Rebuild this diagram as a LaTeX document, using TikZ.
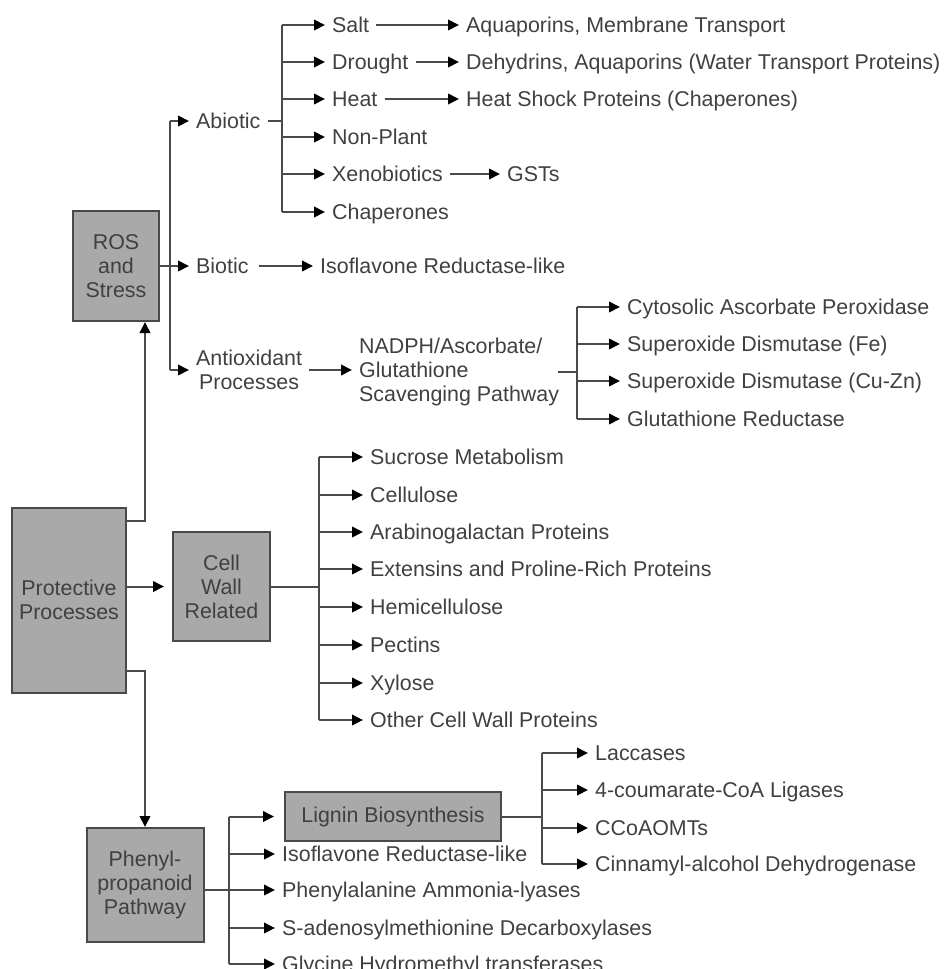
\documentclass[tikz,border=0pt]{standalone}
\usepackage{fontspec}
\setmainfont{Liberation Sans}
\usetikzlibrary{arrows.meta,calc}
\definecolor{boxgray}{HTML}{A9A9A9}
\definecolor{inkgray}{HTML}{404040}
\definecolor{linegray}{HTML}{4A4A4A}
\tikzset{
  box/.style={draw=linegray, line width=2pt, fill=boxgray, align=center, text=inkgray, font=\fontsize{21.4}{24}\selectfont, inner sep=2pt},
  leaf/.style={anchor=west, inner xsep=7pt, inner ysep=0pt, text height=15pt, text depth=0pt, text=inkgray, font=\fontsize{21.4}{24}\selectfont},
  mleaf/.style={anchor=west, inner xsep=7pt, inner ysep=0pt, text=inkgray, font=\fontsize{21.4}{24}\selectfont},
  arr/.style={-{Triangle[length=11pt,width=10.5pt,black]}, line width=2pt, draw=linegray},
  wire/.style={line width=2pt, draw=linegray},
}

\begin{document}
\begin{tikzpicture}[x=1pt,y=-1pt]
\useasboundingbox (0,0) rectangle (944,969);
% main boxes
\node[box, minimum width=86pt, minimum height=110pt] (ros) at (116,266) {ROS\\and\\Stress};
\node[box, minimum width=114pt, minimum height=185pt] (prot) at (69,600) {Protective\\Processes};
\node[box, minimum width=97pt, minimum height=109pt] (cell) at (221.5,586.5) {Cell\\Wall\\Related};
\node[box, minimum width=117pt, minimum height=114pt] (phen) at (145,885) {Phenyl-\\propanoid\\Pathway};
\node[box, minimum width=216pt, minimum height=49pt] (lig) at (393,816.5) {Lignin Biosynthesis};
% bus lines
\coordinate (pvert) at (145,0);
\coordinate (rbus) at (170,0);
\coordinate (abus) at (282,0);
\coordinate (obus) at (577,0);
\coordinate (cbus) at (319,0);
\coordinate (pbus) at (229,0);
\coordinate (lbus) at (542,0);
% ROS and stress
\node[leaf] (abio) at (189,121) {Abiotic};
\node[leaf] (bio) at (189,266) {Biotic};
\node[mleaf, align=center] (anti) at (189,370) {Antioxidant\\Processes};
\node[leaf] (iso) at (313,266) {Isoflavone Reductase-like};
\node[mleaf, align=left] (nadph) at (352,372) {NADPH/Ascorbate/\\Glutathione\\Scavenging Pathway};
\node[leaf] (salt) at (325,25) {Salt};
\node[leaf] (drought) at (325,62) {Drought};
\node[leaf] (heat) at (325,99) {Heat};
\node[leaf] (nonp) at (325,137) {Non-Plant};
\node[leaf] (xeno) at (325,174) {Xenobiotics};
\node[leaf] (chap) at (325,212) {Chaperones};
\node[leaf] (aqua) at (459,25) {Aquaporins, Membrane Transport};
\node[leaf] (dehyd) at (459,62) {Dehydrins, Aquaporins (Water Transport Proteins)};
\node[leaf] (hsp) at (459,99) {Heat Shock Proteins (Chaperones)};
\node[leaf] (gst) at (500,174) {GSTs};
\node[leaf] (apx) at (620,307) {Cytosolic Ascorbate Peroxidase};
\node[leaf] (sodfe) at (620,344) {Superoxide Dismutase (Fe)};
\node[leaf] (sodcu) at (620,381) {Superoxide Dismutase (Cu-Zn)};
\node[leaf] (gr) at (620,419) {Glutathione Reductase};
% cell wall
\node[leaf] (suc) at (363,457) {Sucrose Metabolism};
\node[leaf] (cellu) at (363,495) {Cellulose};
\node[leaf] (agp) at (363,532) {Arabinogalactan Proteins};
\node[leaf] (ext) at (363,569) {Extensins and Proline-Rich Proteins};
\node[leaf] (hemi) at (363,607) {Hemicellulose};
\node[leaf] (pect) at (363,645) {Pectins};
\node[leaf] (xyl) at (363,683) {Xylose};
\node[leaf] (ocw) at (363,720) {Other Cell Wall Proteins};
% phenylpropanoid
\node[leaf] (iso2) at (275,854) {Isoflavone Reductase-like};
\node[leaf] (pal) at (275,890) {Phenylalanine Ammonia-lyases};
\node[leaf] (sam) at (275,928) {S-adenosylmethionine Decarboxylases};
\node[leaf] (gly) at (275,964) {Glycine Hydromethyl transferases};
\node[leaf] (lac) at (588,753) {Laccases};
\node[leaf] (fcl) at (588,790) {4-coumarate-CoA Ligases};
\node[leaf] (ccoa) at (588,828) {CCoAOMTs};
\node[leaf] (cad) at (588,864) {Cinnamyl-alcohol Dehydrogenase};
% protective processes
\draw[arr] ([yshift=-14pt]prot.north east) -| (pvert |- ros.south);
\draw[arr] ([yshift=23pt]prot.south east) -| (pvert |- phen.north);
\draw[arr, shorten >=8pt] (prot.east |- cell.west) -- (cell.west);
% ROS branches
\draw[arr] (ros.east) -- (bio);
\draw[wire] (rbus |- abio) -- (rbus |- anti);
\draw[arr] (rbus |- abio) -- (abio);
\draw[arr] (rbus |- anti) -- (anti);
\draw[arr, shorten <=3pt] (bio) -- (iso);
\draw[wire] (abio.east) -- (abus |- abio);
\draw[wire] (abus |- salt) -- (abus |- chap);
\draw[arr] (abus |- salt) -- (salt);
\draw[arr] (abus |- drought) -- (drought);
\draw[arr] (abus |- heat) -- (heat);
\draw[arr] (abus |- nonp) -- (nonp);
\draw[arr] (abus |- xeno) -- (xeno);
\draw[arr] (abus |- chap) -- (chap);
\draw[arr] (salt) -- (aqua);
\draw[arr] (drought) -- (dehyd);
\draw[arr] (heat) -- (hsp);
\draw[arr] (xeno) -- (gst);
\draw[arr] (anti.east) -- (anti.east -| nadph.west);
\draw[wire] ([xshift=-8pt]nadph.east) -- (obus |- nadph.east);
\draw[wire] (obus |- apx) -- (obus |- gr);
\draw[arr] (obus |- apx) -- (apx);
\draw[arr] (obus |- sodfe) -- (sodfe);
\draw[arr] (obus |- sodcu) -- (sodcu);
\draw[arr] (obus |- gr) -- (gr);
% cell wall branches
\draw[wire] (cell.east) -- (cbus |- cell.east);
\draw[wire] (cbus |- suc) -- (cbus |- ocw);
\draw[arr] (cbus |- suc) -- (suc);
\draw[arr] (cbus |- cellu) -- (cellu);
\draw[arr] (cbus |- agp) -- (agp);
\draw[arr] (cbus |- ext) -- (ext);
\draw[arr] (cbus |- hemi) -- (hemi);
\draw[arr] (cbus |- pect) -- (pect);
\draw[arr] (cbus |- xyl) -- (xyl);
\draw[arr] (cbus |- ocw) -- (ocw);
% phenylpropanoid branches
\draw[wire] (pbus |- lig) -- (pbus |- gly);
\draw[arr, shorten >=10pt] (pbus |- lig) -- (lig.west);
\draw[arr] (pbus |- iso2) -- (iso2);
\draw[arr] (phen.east |- pal) -- (pal);
\draw[arr] (pbus |- sam) -- (sam);
\draw[arr] (pbus |- gly) -- (gly);
\draw[wire] (lig.east) -- (lbus |- lig);
\draw[wire] (lbus |- lac) -- (lbus |- cad);
\draw[arr] (lbus |- lac) -- (lac);
\draw[arr] (lbus |- fcl) -- (fcl);
\draw[arr] (lbus |- ccoa) -- (ccoa);
\draw[arr] (lbus |- cad) -- (cad);
\end{tikzpicture}
\end{document}
